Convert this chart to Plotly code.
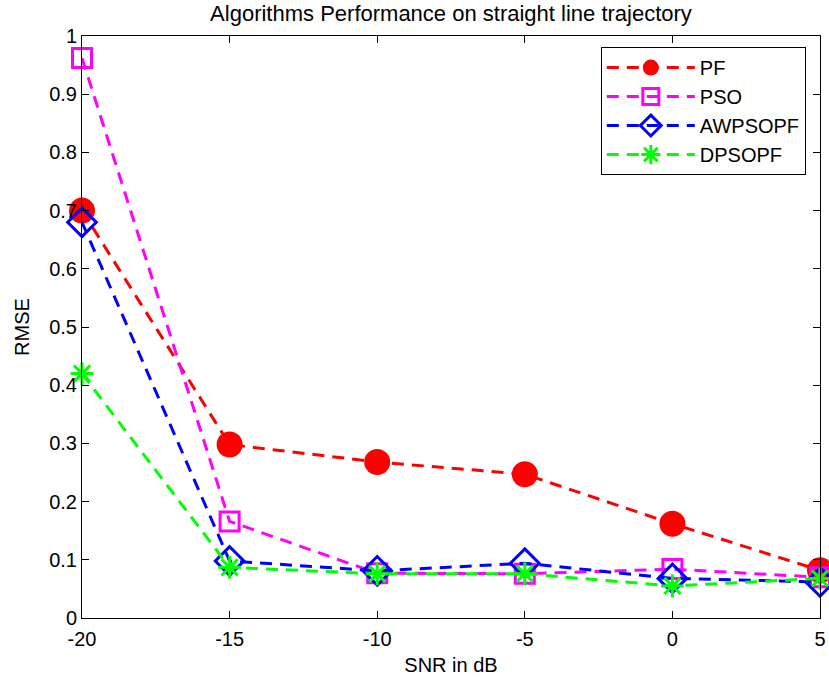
import plotly.graph_objects as go

snr = [-20, -15, -10, -5, 0, 5]
rmse_pf = [0.70, 0.298, 0.268, 0.247, 0.162, 0.082]
rmse_pso = [0.962, 0.166, 0.077, 0.076, 0.084, 0.070]
rmse_awpsopf = [0.680, 0.098, 0.081, 0.094, 0.068, 0.062]
rmse_dpsopf = [0.420, 0.087, 0.076, 0.076, 0.055, 0.068]

xtick_text = ["-20", "-15", "-10", "-5", "0", "5"]
yticks = [0, 0.1, 0.2, 0.3, 0.4, 0.5, 0.6, 0.7, 0.8, 0.9, 1]
ytick_text = ["0", "0.1", "0.2", "0.3", "0.4", "0.5", "0.6", "0.7", "0.8", "0.9", "1"]

dash = "12px,8px"

fig = go.Figure()
fig.add_trace(go.Scatter(
    x=snr, y=rmse_pf, name="PF", mode="lines+markers",
    line=dict(color="#ff0000", width=3, dash=dash),
    marker=dict(symbol="circle", size=26, color="#ff0000"),
    cliponaxis=False,
))
fig.add_trace(go.Scatter(
    x=snr, y=rmse_pso, name="PSO", mode="lines+markers",
    line=dict(color="#ff00ff", width=3, dash=dash),
    marker=dict(symbol="square-open", size=19, color="#ff00ff", line=dict(width=3)),
    cliponaxis=False,
))
fig.add_trace(go.Scatter(
    x=snr, y=rmse_awpsopf, name="AWPSOPF", mode="lines+markers",
    line=dict(color="#0000ff", width=3, dash=dash),
    marker=dict(symbol="diamond-open", size=22, color="#0000ff", line=dict(width=3)),
    cliponaxis=False,
))
fig.add_trace(go.Scatter(
    x=snr, y=rmse_dpsopf, name="DPSOPF", mode="lines+markers",
    line=dict(color="#00ff00", width=3, dash=dash),
    marker=dict(symbol="asterisk-open", size=19, color="#00ff00", line=dict(width=3, color="#00ff00")),
    cliponaxis=False,
))

axis_common = dict(
    showline=True, linecolor="black", linewidth=1, mirror="ticks",
    ticks="inside", ticklen=7, tickcolor="black", showgrid=False, zeroline=False,
    tickfont=dict(size=20, color="black"), automargin=False,
    ticklabeloverflow="allow",
)

fig.update_layout(
    width=829,
    height=681,
    margin=dict(l=82, r=9, t=36, b=63),
    paper_bgcolor="white",
    plot_bgcolor="white",
    font=dict(family="Liberation Sans, Arial, sans-serif", size=20, color="black"),
    title=dict(
        text="Algorithms Performance on straight line trajectory",
        x=(82 + 820) / 2 / 829, xanchor="center", y=1 - 13 / 681, yanchor="middle",
        font=dict(size=22, color="black"), automargin=False,
    ),
    xaxis=dict(
        range=[-20, 5], tickvals=snr, ticktext=xtick_text,
        ticklabelstandoff=3,
        title=dict(text="SNR in dB", font=dict(size=20), standoff=8),
        **axis_common,
    ),
    yaxis=dict(
        range=[0, 1], tickvals=yticks, ticktext=ytick_text,
        title=dict(text="RMSE", font=dict(size=20), standoff=14),
        **axis_common,
    ),
    legend=dict(
        x=0.703, y=0.981, xanchor="left", yanchor="top",
        bgcolor="white", bordercolor="black", borderwidth=1,
        font=dict(size=20), itemwidth=88, tracegroupgap=0,
    ),
    showlegend=True,
)

# page body has an 8px default margin, drop it so the figure fills the window
fig.write_html(
    "out.html",
    config={"displayModeBar": False},
    post_script="document.body.style.margin='0';",
)
